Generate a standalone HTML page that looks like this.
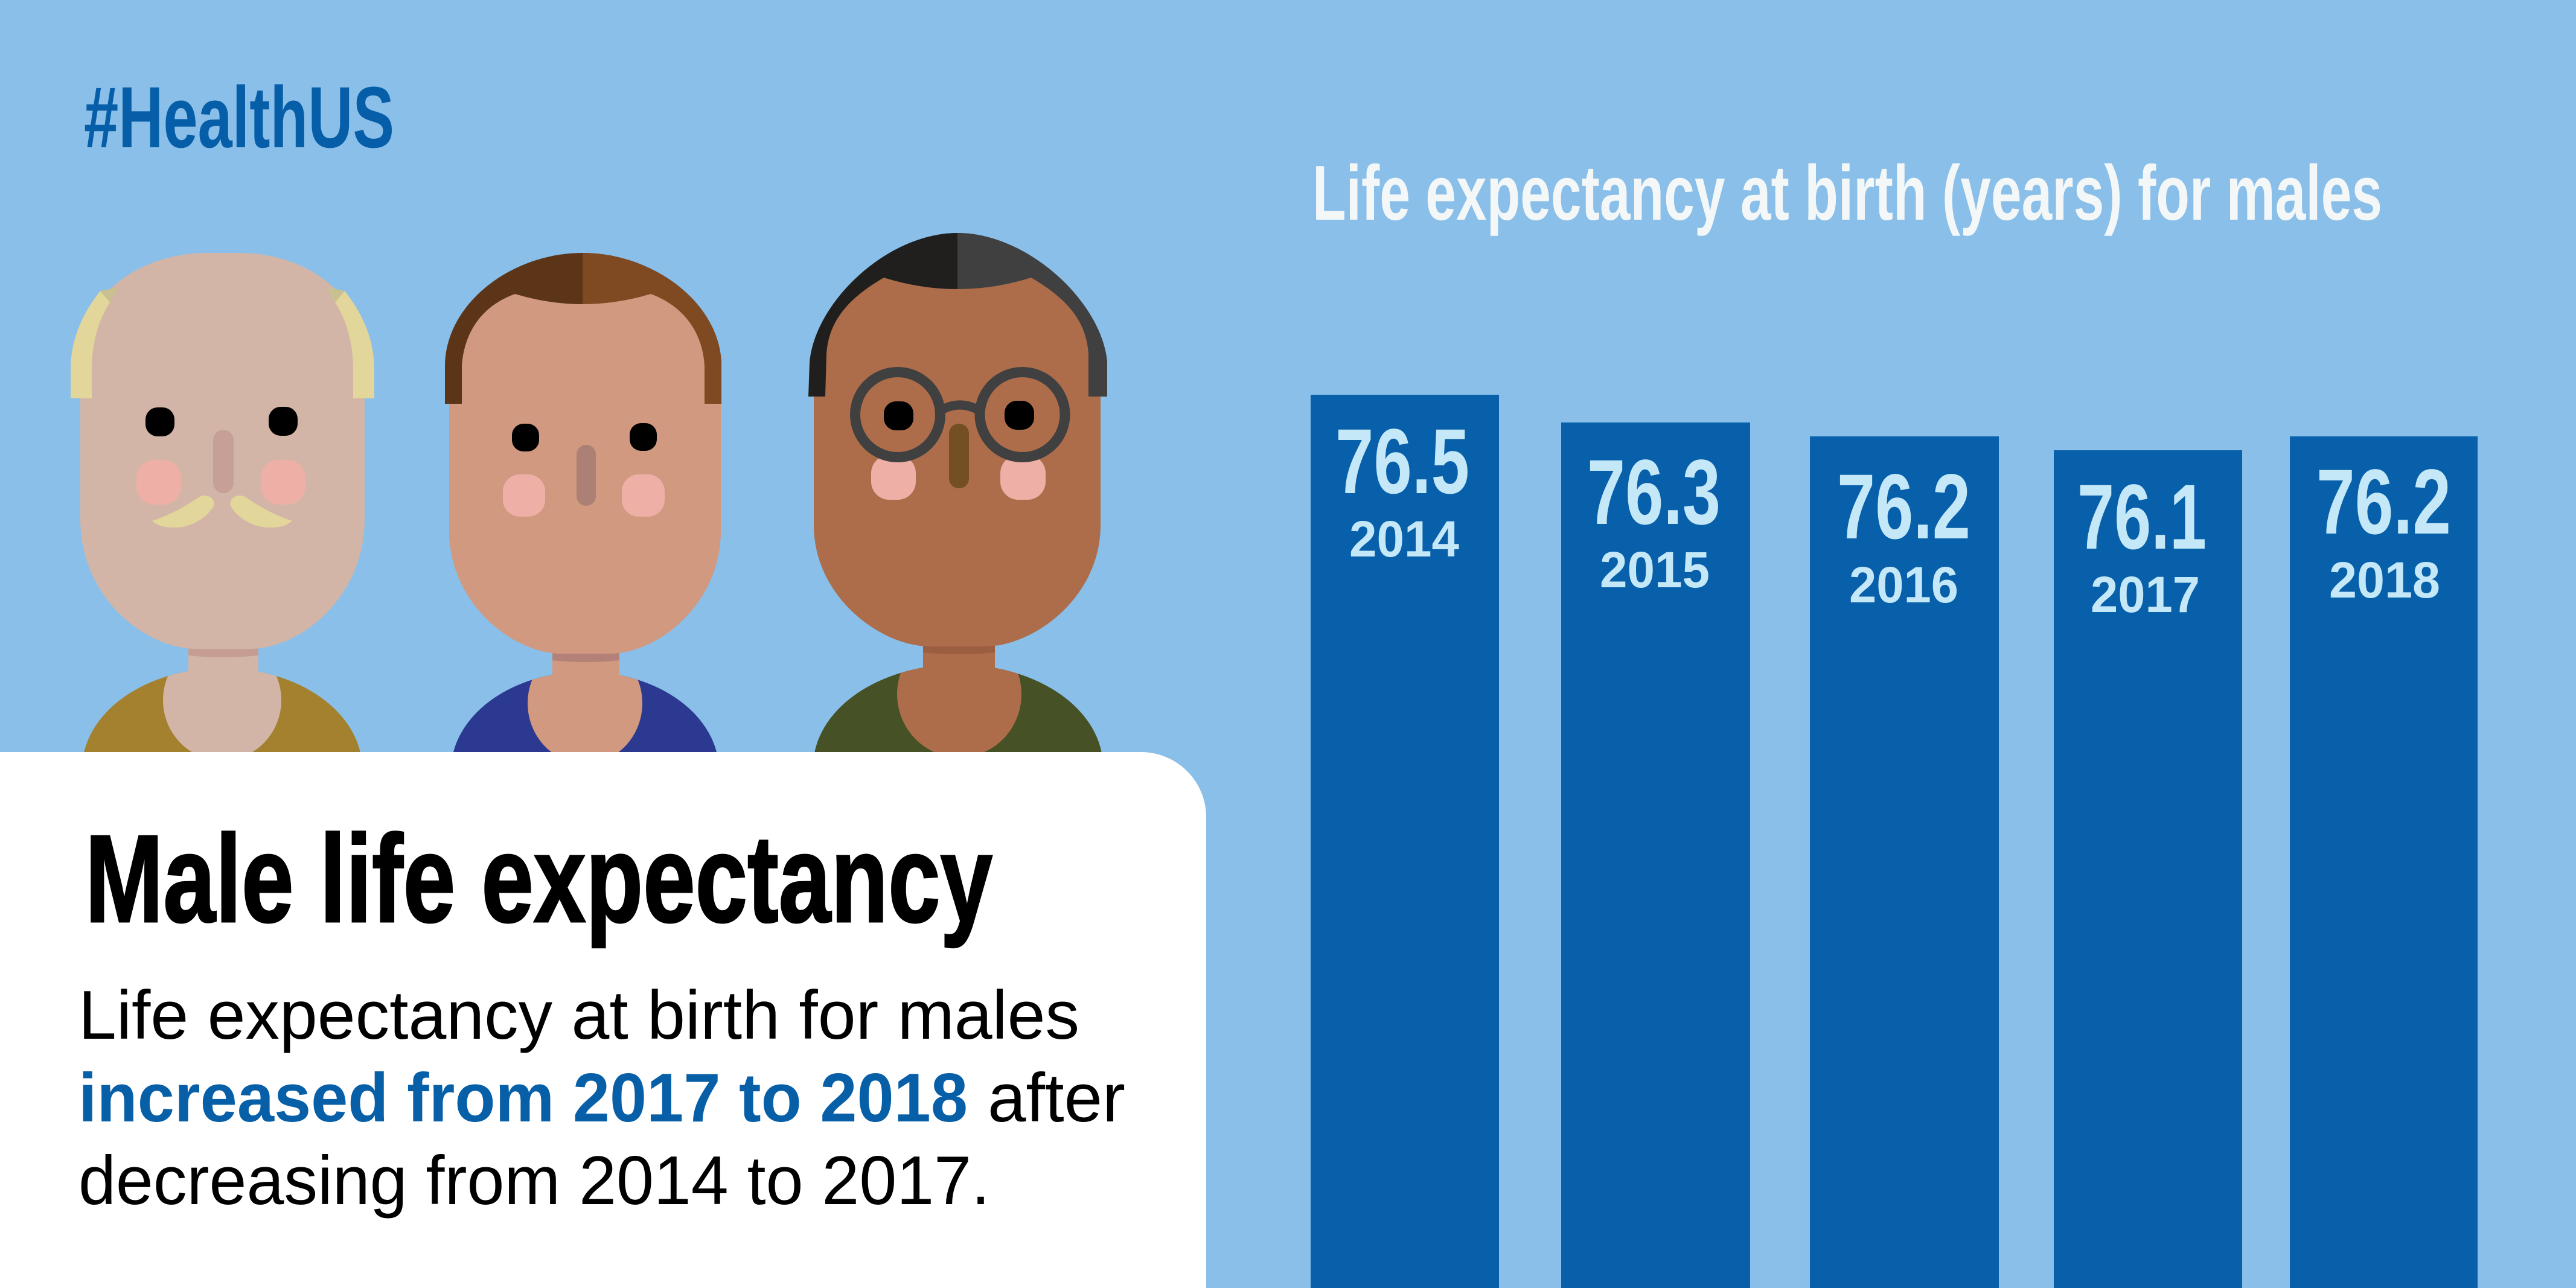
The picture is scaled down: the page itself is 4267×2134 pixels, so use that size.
<!DOCTYPE html>
<html>
<head>
<meta charset="utf-8">
<style>
  html, body { margin: 0; padding: 0; background: #89bfe8; }
  svg { display: block; }
  text { font-family: "Liberation Sans Narrow", "Liberation Sans", "DejaVu Sans Condensed", sans-serif; }
</style>
</head>
<body>
<svg xmlns="http://www.w3.org/2000/svg" width="4267" height="2134" viewBox="0 0 4267 2134">
  <defs>
    <clipPath id="shirt1"><ellipse cx="368" cy="1274" rx="232" ry="167"/></clipPath>
    <clipPath id="shirt2"><ellipse cx="969" cy="1277" rx="222" ry="164"/></clipPath>
    <clipPath id="shirt3"><ellipse cx="1587" cy="1270" rx="240" ry="169"/></clipPath>
    <clipPath id="right2"><rect x="965" y="300" width="400" height="500"/></clipPath>
    <clipPath id="right3"><rect x="1586" y="300" width="400" height="500"/></clipPath>
  </defs>

  <!-- background -->
  <rect x="0" y="0" width="4267" height="2134" fill="#89bfe8"/>

  <!-- #HealthUS -->
  <text x="139" y="244" font-size="144" font-weight="bold" fill="#065ea8" textLength="514" lengthAdjust="spacingAndGlyphs">#HealthUS</text>

  <!-- ============ FACE 1 (bald, mustache) ============ -->
  <ellipse cx="368" cy="1274" rx="232" ry="167" fill="#a3812e"/>
  <ellipse cx="368" cy="1160" rx="98" ry="100" fill="#d3b5a7" clip-path="url(#shirt1)"/>
  <rect x="312" y="1050" width="116" height="80" fill="#d3b5a7"/>
  <path d="M312,1060 L428,1060 L428,1086 Q370,1092 312,1086 Z" fill="#c59d92"/>
  <path d="M133,860 L133,600 C133,480 240,419 343,419 L396,419 C499,419 604,480 604,600 L604,860 C604,990 497,1075 414,1075 L326,1075 C240,1075 133,990 133,860 Z" fill="#d3b5a7"/>
  <!-- hair sides -->
  <path d="M166,482 L196,476 L182,501 Z" fill="#c9c08f"/>
  <path d="M117,660 L117,612 C117,575 128,530 166,482 L182,501 C160,535 152,575 152,612 L152,660 Z" fill="#e2d69a"/>
  <path d="M571,482 L541,476 L555,501 Z" fill="#c9c08f"/>
  <path d="M620,660 L620,612 C620,575 609,530 571,482 L555,501 C577,535 585,575 585,612 L585,660 Z" fill="#e2d69a"/>
  <!-- features -->
  <rect x="241" y="675" width="48" height="48" rx="20" fill="#000"/>
  <rect x="445" y="674" width="48" height="48" rx="20" fill="#000"/>
  <rect x="353" y="712" width="34" height="105" rx="17" fill="#c6a096"/>
  <rect x="226" y="762" width="74" height="74" rx="30" fill="#eeb0a6"/>
  <rect x="432" y="762" width="74" height="74" rx="30" fill="#eeb0a6"/>
  <path d="M252,863 C285,852 305,840 329,824 C340,816 358,825 354,838 C345,855 320,874 289,874 C270,874 260,870 252,863 Z" fill="#e2d69a"/>
  <path d="M484,863 C451,852 431,840 407,824 C396,816 378,825 382,838 C391,855 416,874 447,874 C466,874 476,870 484,863 Z" fill="#e2d69a"/>

  <!-- ============ FACE 2 (brown hair) ============ -->
  <ellipse cx="969" cy="1277" rx="222" ry="164" fill="#2b3990"/>
  <ellipse cx="969" cy="1165" rx="95" ry="100" fill="#d09980" clip-path="url(#shirt2)"/>
  <rect x="915" y="1060" width="111" height="80" fill="#d09980"/>
  <path d="M915,1068 L1026,1068 L1026,1094 Q970,1100 915,1094 Z" fill="#b38178"/>
  <path d="M744,640 L744,880 C744,1000 850,1083 930,1083 L1010,1083 C1090,1083 1194,1000 1194,880 L1194,640 Z" fill="#d09980"/>
  <path d="M737,669 L737,603 C740,500 850,419 965,419 C1080,419 1192,500 1195,603 L1195,669 Z" fill="#5c3519"/>
  <path d="M737,669 L737,603 C740,500 850,419 965,419 C1080,419 1192,500 1195,603 L1195,669 Z" fill="#7f4a22" clip-path="url(#right2)"/>
  <path d="M765,669 L765,607 C768,560 790,510 853,487 Q965,521 1078,487 C1140,510 1165,560 1167,607 L1167,669 Z" fill="#d09980"/>
  <rect x="848" y="702" width="45" height="46" rx="19" fill="#000"/>
  <rect x="1043" y="701" width="45" height="46" rx="19" fill="#000"/>
  <rect x="955" y="737" width="32" height="101" rx="16" fill="#ac8074"/>
  <rect x="833" y="786" width="70" height="70" rx="28" fill="#eeb0a6"/>
  <rect x="1030" y="786" width="71" height="70" rx="28" fill="#eeb0a6"/>

  <!-- ============ FACE 3 (glasses) ============ -->
  <ellipse cx="1587" cy="1270" rx="240" ry="169" fill="#465126"/>
  <ellipse cx="1589" cy="1150" rx="103" ry="105" fill="#ad6d4a" clip-path="url(#shirt3)"/>
  <rect x="1529" y="1050" width="119" height="75" fill="#ad6d4a"/>
  <path d="M1529,1058 L1648,1058 L1648,1081 Q1589,1087 1529,1081 Z" fill="#9b5e40"/>
  <path d="M1348,620 L1348,870 C1348,990 1460,1071 1540,1071 L1632,1071 C1712,1071 1823,990 1823,870 L1823,620 Z" fill="#ad6d4a"/>
  <path d="M1339,657 L1341,600 C1350,500 1470,386 1586,386 C1702,386 1825,500 1834,600 L1834,657 Z" fill="#201f1d"/>
  <path d="M1339,657 L1341,600 C1350,500 1470,386 1586,386 C1702,386 1825,500 1834,600 L1834,657 Z" fill="#404040" clip-path="url(#right3)"/>
  <path d="M1367,657 L1369,587 C1372,540 1395,500 1464,460 Q1586,498 1708,460 C1777,500 1800,540 1803,587 L1803,657 Z" fill="#ad6d4a"/>
  <rect x="1443" y="754" width="74" height="74" rx="30" fill="#eeb0a6"/>
  <rect x="1657" y="754" width="75" height="74" rx="30" fill="#eeb0a6"/>
  <rect x="1572" y="702" width="33" height="107" rx="16" fill="#744f24"/>
  <rect x="1464" y="665" width="49" height="48" rx="20" fill="#000"/>
  <rect x="1664" y="664" width="49" height="48" rx="20" fill="#000"/>
  <circle cx="1487" cy="687" r="70.5" fill="none" stroke="#404040" stroke-width="17"/>
  <circle cx="1693.5" cy="687" r="70.5" fill="none" stroke="#404040" stroke-width="17"/>
  <path d="M1558,680 Q1590,662 1622,680" fill="none" stroke="#404040" stroke-width="15"/>

  <!-- white panel -->
  <path d="M0,1246 L1890,1246 A108,108 0 0 1 1998,1354 L1998,2134 L0,2134 Z" fill="#ffffff"/>

  <!-- panel text -->
  <text x="141" y="1527" font-size="206" font-weight="bold" fill="#000" stroke="#000" stroke-width="3" textLength="1503" lengthAdjust="spacingAndGlyphs">Male life expectancy</text>
  <text x="130" y="1721" font-size="114" fill="#000" textLength="1658" lengthAdjust="spacingAndGlyphs">Life expectancy at birth for males</text>
  <text x="130" y="1858" font-size="114" font-weight="bold" fill="#075fa8" textLength="1473" lengthAdjust="spacingAndGlyphs">increased from 2017 to 2018</text>
  <text x="1636" y="1858" font-size="114" fill="#000" textLength="228" lengthAdjust="spacingAndGlyphs">after</text>
  <text x="130" y="1995" font-size="114" fill="#000" textLength="1510" lengthAdjust="spacingAndGlyphs">decreasing from 2014 to 2017.</text>

  <!-- chart title -->
  <text x="2174" y="364" font-size="129" font-weight="bold" fill="#f4f7f8" textLength="1772" lengthAdjust="spacingAndGlyphs">Life expectancy at birth (years) for males</text>

  <!-- bars -->
  <rect x="2171" y="654" width="312" height="1480" fill="#0760a9"/>
  <rect x="2586" y="700" width="313" height="1434" fill="#0760a9"/>
  <rect x="2998" y="723" width="313" height="1411" fill="#0760a9"/>
  <rect x="3402" y="746" width="312" height="1388" fill="#0760a9"/>
  <rect x="3793" y="723" width="311" height="1411" fill="#0760a9"/>

  <!-- bar labels -->
  <g font-weight="bold" fill="#c5e8f9">
    <text x="2212" y="817" font-size="153" textLength="222" lengthAdjust="spacingAndGlyphs">76.5</text>
    <text x="2235" y="922" font-size="84" textLength="182" lengthAdjust="spacingAndGlyphs">2014</text>

    <text x="2629" y="868" font-size="153" textLength="221" lengthAdjust="spacingAndGlyphs">76.3</text>
    <text x="2650" y="973" font-size="84" textLength="182" lengthAdjust="spacingAndGlyphs">2015</text>

    <text x="3043" y="892" font-size="153" textLength="221" lengthAdjust="spacingAndGlyphs">76.2</text>
    <text x="3063" y="998" font-size="84" textLength="181" lengthAdjust="spacingAndGlyphs">2016</text>

    <text x="3441" y="909" font-size="153" textLength="214" lengthAdjust="spacingAndGlyphs">76.1</text>
    <text x="3463" y="1014" font-size="84" textLength="181" lengthAdjust="spacingAndGlyphs">2017</text>

    <text x="3837" y="884" font-size="153" textLength="223" lengthAdjust="spacingAndGlyphs">76.2</text>
    <text x="3858" y="990" font-size="84" textLength="184" lengthAdjust="spacingAndGlyphs">2018</text>
  </g>
</svg>
</body>
</html>
